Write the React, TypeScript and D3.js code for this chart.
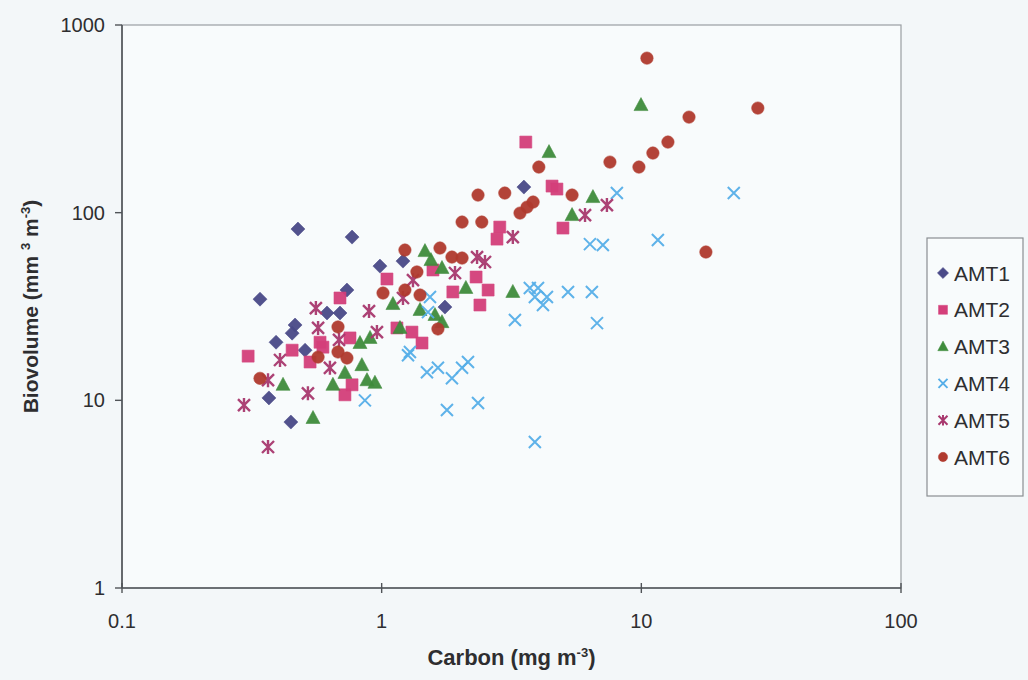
import React, { useEffect, useRef } from 'react';
import * as d3 from 'd3';

// [carbon, biovolume] pairs
const AMT1 = [
  [0.476, 81.8], [0.769, 74.1], [0.985, 51.9], [0.34, 34.6], [0.735, 38.7], [0.616, 29.2],
  [0.691, 29.2], [0.464, 25.2], [0.452, 22.8], [0.392, 20.4], [0.507, 18.5], [0.368, 10.3],
  [0.447, 7.66], [1.208, 55.2], [3.53, 136.9], [1.753, 31.4],
];
const AMT2 = [
  [0.306, 17.2], [0.691, 35.1], [1.048, 44.3], [0.579, 20.4], [0.594, 19.2], [0.755, 21.5],
  [0.452, 18.5], [0.53, 16.0], [0.722, 10.7], [0.769, 12.1], [1.576, 49.5], [2.31, 45.4],
  [1.88, 37.8], [2.57, 38.7], [2.39, 32.2], [1.145, 24.3], [1.308, 23.1], [1.43, 20.2],
  [2.78, 72.3], [2.85, 83.8], [3.59, 237.8], [4.53, 138.6], [4.73, 133.6], [4.99, 82.8],
];
const AMT3 = [
  [0.417, 12.1], [0.544, 8.05], [0.649, 12.1], [0.839, 15.4], [0.722, 14.0], [0.942, 12.4],
  [0.878, 12.8], [0.825, 20.2], [0.902, 21.5], [1.176, 24.3], [1.105, 32.6], [1.468, 62.4],
  [1.548, 55.9], [1.707, 50.7], [2.11, 39.7], [3.2, 37.8], [1.405, 30.3], [1.604, 28.5],
  [1.707, 26.1], [4.41, 210.3], [6.51, 121.1], [5.41, 97.1], [9.97, 374.4],
];
const AMT4 = [
  [0.862, 10.0], [1.285, 18.1], [1.535, 35.5], [1.508, 29.5], [1.263, 17.4], [1.494, 14.1],
  [1.647, 14.9], [1.865, 13.1], [2.04, 14.9], [2.15, 16.0], [1.784, 8.88], [2.35, 9.67],
  [3.89, 6.0], [3.26, 26.8], [3.72, 39.7], [4.0, 39.7], [3.89, 35.5], [4.33, 35.5],
  [4.18, 32.2], [5.22, 37.8], [6.45, 37.8], [6.75, 25.8], [6.34, 68.0], [7.11, 67.2],
  [11.58, 71.5], [8.05, 127.2], [22.7, 127.2],
];
const AMT5 = [
  [0.295, 9.44], [0.365, 5.64], [0.365, 12.8], [0.406, 16.4], [0.558, 31.0], [0.569, 24.3],
  [0.52, 10.9], [0.685, 21.0], [0.632, 14.9], [0.894, 29.9], [0.959, 23.1], [1.32, 43.7],
  [1.208, 35.1], [1.916, 47.7], [2.33, 58.0], [2.5, 54.6], [3.2, 74.1], [6.07, 97.1],
  [7.37, 109.8],
];
const AMT6 = [
  [0.34, 13.1], [0.679, 24.6], [0.679, 18.1], [0.735, 16.8], [0.569, 17.0], [1.012, 37.3],
  [1.229, 38.7], [1.405, 36.4], [1.229, 63.2], [1.367, 48.3], [1.677, 64.8], [1.865, 58.0],
  [2.04, 57.3], [1.647, 24.0], [2.04, 89.1], [2.43, 89.1], [2.35, 124.1], [2.98, 127.2],
  [3.41, 99.5], [3.63, 107.1], [3.83, 113.9], [4.03, 175], [5.41, 124.1], [7.57, 186],
  [9.79, 175], [11.08, 207.8], [12.66, 237.8], [15.26, 323], [10.51, 666], [28.1, 360.8],
  [17.73, 61.7],
];

const seriesNames = ['AMT1', 'AMT2', 'AMT3', 'AMT4', 'AMT5', 'AMT6'];
const seriesData = [AMT1, AMT2, AMT3, AMT4, AMT5, AMT6];
const seriesColors = ['#4a4a88', '#d43f7a', '#3f8c3c', '#55aee8', '#a8386e', '#b03a2e'];
const seriesShapes = ['diamond', 'square', 'triangle', 'x', 'star', 'circle'];

const xTicks = [0.1, 1, 10, 100];
const yTicks = [1, 10, 100, 1000];

const markerPath = (shape: string) => {
  const p = d3.path();
  if (shape === 'diamond') {
    p.moveTo(0, -7); p.lineTo(7, 0); p.lineTo(0, 7); p.lineTo(-7, 0); p.closePath();
  } else if (shape === 'square') {
    p.rect(-6, -6, 12, 12);
  } else if (shape === 'triangle') {
    p.moveTo(0, -7.5); p.lineTo(7, 5.5); p.lineTo(-7, 5.5); p.closePath();
  } else if (shape === 'circle') {
    p.arc(0, 0, 6.2, 0, Math.PI * 2);
  } else if (shape === 'x') {
    p.moveTo(-6, -6); p.lineTo(6, 6); p.moveTo(6, -6); p.lineTo(-6, 6);
  } else {
    // excel "star": an x with a vertical stroke
    p.moveTo(-6, -6); p.lineTo(6, 6); p.moveTo(6, -6); p.lineTo(-6, 6);
    p.moveTo(0, -7); p.lineTo(0, 7);
  }
  return p.toString();
};

const isStroked = (shape: string) => shape === 'x' || shape === 'star';

const Chart = () => {
  const svgRef = useRef<SVGSVGElement>(null);

  useEffect(() => {
    const width = 1028;
    const height = 680;
    const plot = { left: 122, right: 901, top: 25, bottom: 588 };

    const svg = d3.select(svgRef.current)
      .attr('width', width)
      .attr('height', height);

    svg.selectAll('*').remove();

    const font = 'Arial, "Liberation Sans", Helvetica, sans-serif';
    const ink = '#2e2e30';

    svg.append('rect')
      .attr('width', width)
      .attr('height', height)
      .attr('fill', '#f3f7f9');

    const x = d3.scaleLog().domain([0.1, 100]).range([plot.left, plot.right]);
    const y = d3.scaleLog().domain([1, 1000]).range([plot.bottom, plot.top]);

    // plot frame
    svg.append('rect')
      .attr('x', plot.left)
      .attr('y', plot.top)
      .attr('width', plot.right - plot.left)
      .attr('height', plot.bottom - plot.top)
      .attr('fill', '#f8fbfc')
      .attr('stroke', '#9a9ea2')
      .attr('stroke-width', 1.2);

    // axes
    svg.append('line')
      .attr('x1', plot.left).attr('x2', plot.left)
      .attr('y1', plot.top).attr('y2', plot.bottom)
      .attr('stroke', '#505458').attr('stroke-width', 1.6);
    svg.append('line')
      .attr('x1', plot.left).attr('x2', plot.right)
      .attr('y1', plot.bottom).attr('y2', plot.bottom)
      .attr('stroke', '#505458').attr('stroke-width', 1.6);

    svg.selectAll('.ytick')
      .data(yTicks)
      .join('line')
      .attr('x1', plot.left - 7).attr('x2', plot.left)
      .attr('y1', d => y(d)).attr('y2', d => y(d))
      .attr('stroke', '#505458').attr('stroke-width', 1.4);

    svg.selectAll('.ylabel')
      .data(yTicks)
      .join('text')
      .attr('x', plot.left - 17)
      .attr('y', d => y(d))
      .attr('dy', '0.35em')
      .attr('text-anchor', 'end')
      .attr('fill', ink)
      .style('font-family', font)
      .style('font-size', '20px')
      .text(d => d3.format('')(d));

    svg.selectAll('.xtick')
      .data(xTicks)
      .join('line')
      .attr('x1', d => x(d)).attr('x2', d => x(d))
      .attr('y1', plot.bottom - 5).attr('y2', plot.bottom + 5)
      .attr('stroke', '#505458').attr('stroke-width', 1.4);

    svg.selectAll('.xlabel')
      .data(xTicks)
      .join('text')
      .attr('x', d => x(d))
      .attr('y', 628)
      .attr('text-anchor', 'middle')
      .attr('fill', ink)
      .style('font-family', font)
      .style('font-size', '20px')
      .text(d => String(d));

    // axis titles
    const xTitle = svg.append('text')
      .attr('x', (plot.left + plot.right) / 2)
      .attr('y', 665)
      .attr('text-anchor', 'middle')
      .attr('fill', ink)
      .style('font-family', font)
      .style('font-size', '22px')
      .style('font-weight', 'bold');
    xTitle.append('tspan').text('Carbon (mg m');
    xTitle.append('tspan').attr('dy', -8).style('font-size', '13px').text('-3');
    xTitle.append('tspan').attr('dy', 8).text(')');

    const yTitle = svg.append('text')
      .attr('transform', `translate(38,${(plot.top + plot.bottom) / 2}) rotate(-90)`)
      .attr('text-anchor', 'middle')
      .attr('fill', ink)
      .style('font-family', font)
      .style('font-size', '21px')
      .style('font-weight', 'bold');
    yTitle.append('tspan').text('Biovolume (mm ');
    yTitle.append('tspan').attr('dy', -8).style('font-size', '13px').text('3');
    yTitle.append('tspan').attr('dy', 8).text(' m');
    yTitle.append('tspan').attr('dy', -8).style('font-size', '13px').text('-3');
    yTitle.append('tspan').attr('dy', 8).text(')');

    // points
    seriesData.forEach((pts, i) => {
      const shape = seriesShapes[i];
      const color = seriesColors[i];
      svg.append('g')
        .selectAll('path')
        .data(pts)
        .join('path')
        .attr('transform', d => `translate(${x(d[0])},${y(d[1])})`)
        .attr('d', markerPath(shape))
        .attr('fill', isStroked(shape) ? 'none' : color)
        .attr('stroke', color)
        .attr('stroke-width', shape === 'star' ? 2.4 : shape === 'x' ? 2 : 0.6)
        .attr('opacity', 0.95);
    });

    // legend
    const legend = svg.append('g');
    legend.append('rect')
      .attr('x', 927)
      .attr('y', 238)
      .attr('width', 96)
      .attr('height', 258)
      .attr('fill', '#f8fbfc')
      .attr('stroke', '#8a8e92')
      .attr('stroke-width', 1.2);

    const rowY = d3.scaleLinear().domain([0, 5]).range([273, 457]);
    seriesNames.forEach((name, i) => {
      const shape = seriesShapes[i];
      const color = seriesColors[i];
      const scale = shape === 'diamond' ? 0.8 : 0.75;
      legend.append('path')
        .attr('transform', `translate(943,${rowY(i)}) scale(${scale})`)
        .attr('d', markerPath(shape))
        .attr('fill', isStroked(shape) ? 'none' : color)
        .attr('stroke', color)
        .attr('stroke-width', isStroked(shape) ? 2.6 : 0.6);
      legend.append('text')
        .attr('x', 954)
        .attr('y', rowY(i))
        .attr('dy', '0.36em')
        .attr('fill', ink)
        .style('font-family', font)
        .style('font-size', '21px')
        .text(name);
    });
  }, []);

  return <svg ref={svgRef} style={{ position: 'absolute', left: 0, top: 0 }}></svg>;
};

export default function App() {
  return <Chart />;
}
